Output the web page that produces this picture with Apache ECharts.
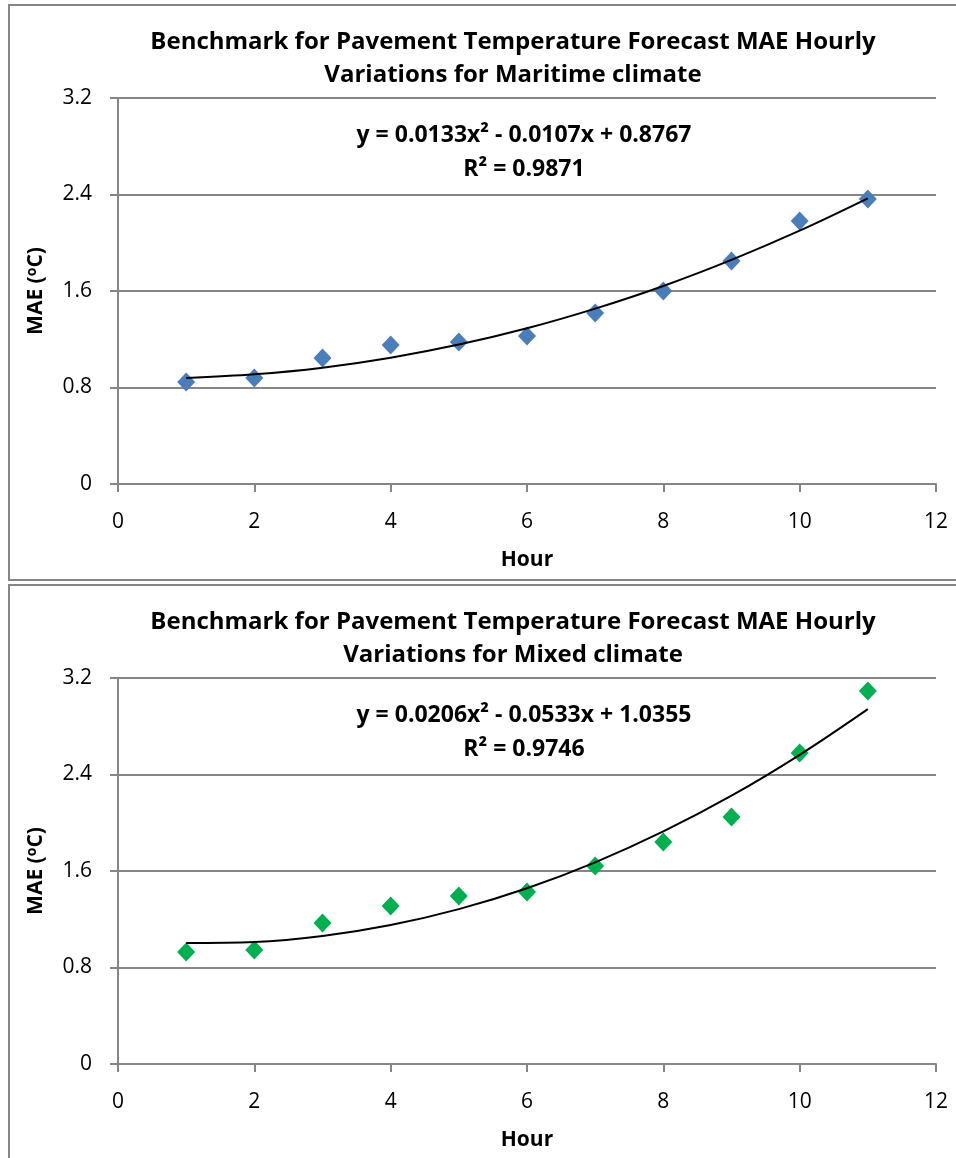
<!DOCTYPE html>
<html>
<head>
<meta charset="utf-8">
<script src="https://cdn.jsdelivr.net/npm/echarts@6/dist/echarts.min.js"></script>
<style>
  html, body { margin: 0; padding: 0; background: #fff; }
  #main { width: 956px; height: 1158px; }
</style>
</head>
<body>
<div id="main"></div>
<script>
// hours on x axis
var hours = [1, 2, 3, 4, 5, 6, 7, 8, 9, 10, 11];

// MAE
var maritimeMae = [0.846, 0.879, 1.045, 1.153, 1.177, 1.227, 1.418, 1.600, 1.849, 2.181, 2.363];
var mixedMae = [0.929, 0.945, 1.169, 1.310, 1.393, 1.426, 1.642, 1.841, 2.048, 2.579, 3.093];

// trendline values at each hour
var maritimeTrend = [0.879, 0.909, 0.964, 1.047, 1.156, 1.291, 1.454, 1.642, 1.858, 2.100, 2.368];
var mixedTrend = [1.003, 1.011, 1.061, 1.152, 1.284, 1.457, 1.672, 1.928, 2.224, 2.563, 2.942];

var xTicks = [0, 12, 2];
var yTicks = [0, 3.2, 0.8];

var titles = [
  'Benchmark for Pavement Temperature Forecast MAE Hourly\nVariations for Maritime climate',
  'Benchmark for Pavement Temperature Forecast MAE Hourly\nVariations for Mixed climate'
];
var equations = [
  'y = 0.0133x² - 0.0107x + 0.8767\nR² = 0.9871',
  'y = 0.0206x² - 0.0533x + 1.0355\nR² = 0.9746'
];

var font = '"Open Sans", sans-serif';
var axisGrey = '#868686';

function pairs(xs, ys) {
  return xs.map(function (x, i) { return [x, ys[i]]; });
}

var myChart = echarts.init(document.getElementById('main'));

var grids = [];
var xAxes = [];
var yAxes = [];
var titleList = [];
var panelTops = [5, 585];
var offsets = [0, 580];

for (var i = 0; i < 2; i++) {
  var off = offsets[i];
  grids.push({ left: 118, top: 98 + off, width: 818, height: 386 });
  xAxes.push({
    type: 'value', gridIndex: i,
    min: xTicks[0], max: xTicks[1], interval: xTicks[2],
    name: 'Hour', nameLocation: 'middle', nameGap: 66,
    nameTextStyle: { fontFamily: font, fontWeight: 'bold', fontSize: 21, color: '#000' },
    axisLine: { lineStyle: { color: axisGrey, width: 2 } },
    axisTick: { show: true, inside: false, length: 8, lineStyle: { color: axisGrey, width: 2 } },
    axisLabel: { fontFamily: font, fontSize: 21, color: '#000', margin: 28 },
    splitLine: { show: false }
  });
  yAxes.push({
    type: 'value', gridIndex: i,
    min: yTicks[0], max: yTicks[1], interval: yTicks[2],
    name: 'MAE ({s|o}C)', nameLocation: 'middle', nameGap: 71, nameRotate: 90,
    nameTextStyle: {
      fontFamily: font, fontWeight: 'bold', fontSize: 21, color: '#000',
      rich: { s: { fontFamily: font, fontWeight: 'bold', fontSize: 14, color: '#000', verticalAlign: 'top', padding: [0, 0, 8, 0] } }
    },
    axisLine: { show: true, lineStyle: { color: axisGrey, width: 2 } },
    axisTick: { show: true, inside: false, length: 8, lineStyle: { color: axisGrey, width: 2 } },
    axisLabel: {
      fontFamily: font, fontSize: 21, color: '#000', margin: 26,
      formatter: function (v) { return v === 0 ? '0' : v.toFixed(1); }
    },
    splitLine: { show: true, lineStyle: { color: axisGrey, width: 2 } }
  });
  titleList.push({
    text: titles[i], left: 508, top: 21 + off, textAlign: 'center',
    textStyle: { fontFamily: font, fontWeight: 'bold', fontSize: 24, color: '#000', lineHeight: 33 }
  });
  titleList.push({
    text: equations[i], left: 519, top: 113 + off, textAlign: 'center',
    textStyle: { fontFamily: font, fontWeight: 'bold', fontSize: 23, color: '#000', lineHeight: 34 }
  });
}

myChart.setOption({
  animation: false,
  title: titleList,
  grid: grids,
  xAxis: xAxes,
  yAxis: yAxes,
  graphic: [
    { type: 'rect', shape: { x: 9, y: panelTops[0], width: 960, height: 575 }, style: { fill: 'none', stroke: axisGrey, lineWidth: 2 }, z: -1 },
    { type: 'rect', shape: { x: 9, y: panelTops[1], width: 960, height: 590 }, style: { fill: 'none', stroke: axisGrey, lineWidth: 2 }, z: -1 }
  ],
  series: [
    {
      name: 'Maritime', type: 'scatter', xAxisIndex: 0, yAxisIndex: 0,
      symbol: 'diamond', symbolSize: [18, 19],
      itemStyle: { color: '#4a7ebb', opacity: 1 },
      data: pairs(hours, maritimeMae), z: 3
    },
    {
      name: 'Maritime trend', type: 'line', xAxisIndex: 0, yAxisIndex: 0,
      smooth: 0.35, showSymbol: false, symbol: 'none',
      lineStyle: { color: '#000', width: 2 },
      data: pairs(hours, maritimeTrend), z: 4
    },
    {
      name: 'Mixed', type: 'scatter', xAxisIndex: 1, yAxisIndex: 1,
      symbol: 'diamond', symbolSize: [18, 19],
      itemStyle: { color: '#00b050', opacity: 1 },
      data: pairs(hours, mixedMae), z: 3
    },
    {
      name: 'Mixed trend', type: 'line', xAxisIndex: 1, yAxisIndex: 1,
      smooth: 0.35, showSymbol: false, symbol: 'none',
      lineStyle: { color: '#000', width: 2 },
      data: pairs(hours, mixedTrend), z: 4
    }
  ]
});
</script>
</body>
</html>
